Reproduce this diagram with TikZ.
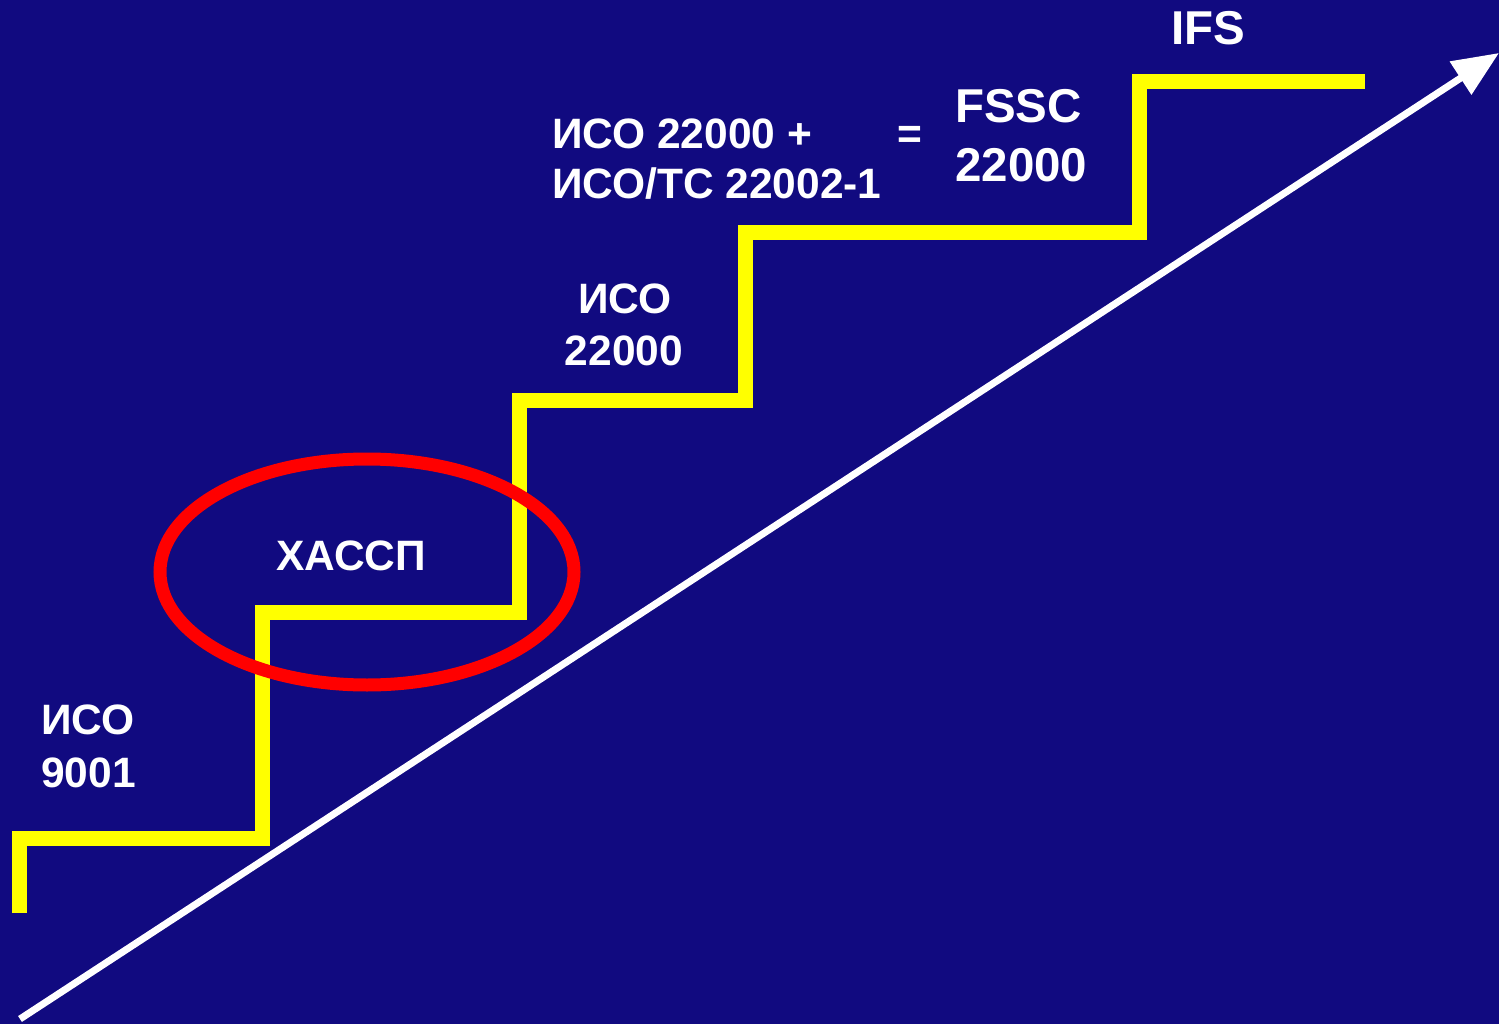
\documentclass[tikz,border=0pt]{standalone}
\usepackage{fontspec}
\setmainfont{Liberation Sans}
\usetikzlibrary{arrows.meta, positioning}
\definecolor{slideblue}{RGB}{17,10,128}
\definecolor{stepyellow}{RGB}{255,255,0}
\definecolor{ringred}{RGB}{255,0,0}

\tikzset{
    steptext/.style={text=white, font=\bfseries\fontsize{42.5}{50}\selectfont, inner sep=0pt, anchor=base west},
    bigtext/.style={steptext, font=\bfseries\fontsize{47.5}{54}\selectfont}
}

\begin{document}
\begin{tikzpicture}[x=1pt, y=-1pt]
    \fill[slideblue] (0,0) rectangle (1499,1024);
    \useasboundingbox (0,0) rectangle (1499,1024);

    % growth arrow
    \coordinate (arrowstart) at (20,1019);
    \coordinate (arrowtip) at (1499,53);
    \draw[white, line width=7pt, -{Triangle[length=46pt, width=38pt]}] (arrowstart) -- (arrowtip);

    % staircase
    \draw[stepyellow, line width=15pt, line join=miter]
        (19,913) |- (262,838) |- (519,612) |- (745,400) |- (1139,233) |- (1365,82);

    % ring round the HACCP step
    \draw[ringred, line width=13pt] (367,572) ellipse [x radius=207, y radius=113];

    % step labels
    \node[steptext] (isoA) at (41,734) {ИСО};
    \node[steptext] (isoAnum) at (41,787) {9001};
    \node[steptext] (haccp) at (276,570) {ХАССП};
    \node[steptext, anchor=base] (isoB) at (625,313) {ИСО};
    \node[steptext, anchor=base] (isoBnum) at (624,365) {22000};
    \node[steptext] (isoC) at (552,149) {ИСО 22000 +};
    \node[steptext] (isoTS) at (552,199) {ИСО/ТС 22002-1};
    \node[steptext, anchor=center] (equals) at (910,137) {=};
    \node[bigtext] (fssc) at (955,123) {FSSC};
    \node[bigtext] (fsscnum) at (955,182) {22000};
    \node[bigtext] (ifs) at (1171,45) {IFS};
\end{tikzpicture}
\end{document}
